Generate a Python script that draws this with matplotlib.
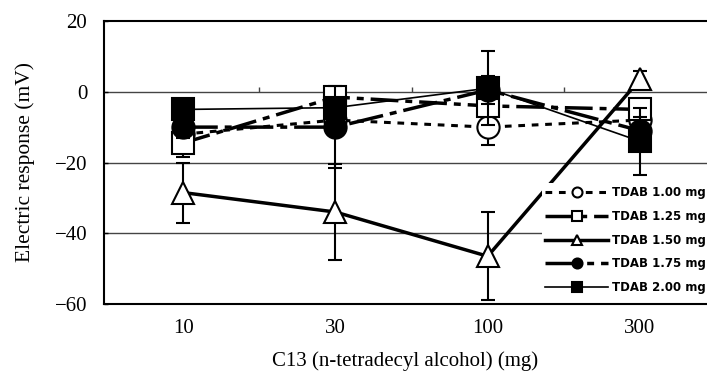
import numpy as np
import matplotlib
matplotlib.use("Agg")
import matplotlib.pyplot as plt

# ---------- datos ----------
c13_labels = ["10", "30", "100", "300"]
series_labels = ["TDAB 1.00 mg", "TDAB 1.25 mg", "TDAB 1.50 mg",
                 "TDAB 1.75 mg", "TDAB 2.00 mg"]

tdab_100 = [-12.0, -8.0, -10.0, -8.0]
tdab_125 = [-14.5, -1.5, -4.0, -5.0]
tdab_150 = [-28.5, -34.0, -46.5, 3.5]
tdab_175 = [-10.0, -10.0, 0.5, -11.0]
tdab_200 = [-5.0, -4.5, 1.0, -14.0]

err_100 = [3.0, 3.0, 5.0, 4.0]
err_125 = [4.0, 2.0, 3.0, 3.0]
err_150 = [8.5, 13.5, 12.5, 2.5]
err_175 = [3.0, 11.5, 4.0, 4.0]
err_200 = [2.0, 2.0, 10.5, 9.5]
# ---------------------------

plt.rcParams["font.family"] = ["Liberation Serif", "DejaVu Serif"]

fig = plt.figure(figsize=(7.07, 3.74), dpi=100)
ax = fig.add_axes([104 / 707, 1 - 304 / 374, 1 - 104 / 707, (304 - 21) / 374])

x = np.arange(len(c13_labels))

estilos = [
    # (valores, errores, marcador, cara, dashes, lw)
    (tdab_100, err_100, "o", "white", (2.2, 2.2), 2.2),
    (tdab_125, err_125, "s", "white", (8, 2, 2, 2), 2.5),
    (tdab_150, err_150, "^", "white", None, 2.5),
    (tdab_175, err_175, "o", "black", (10, 2, 2, 2), 2.5),
    (tdab_200, err_200, "s", "black", None, 1.2),
]

for i, (vals, errs, mk, fc, dsh, lw) in enumerate(estilos):
    ax.errorbar(x, vals, yerr=errs, fmt="none", ecolor="black",
                elinewidth=1.5, capsize=5, capthick=1.5, zorder=3 + i)
    kw = dict(color="black", lw=lw, marker=mk, markersize=16,
              markerfacecolor=fc, markeredgecolor="black",
              markeredgewidth=1.5, label=series_labels[i], zorder=3 + i)
    if dsh is not None:
        kw["dashes"] = dsh
    ax.plot(x, vals, **kw)

for yy in [0, -20, -40]:
    ax.axhline(yy, color="#444444", lw=1.0, zorder=1)
ax.vlines([0.5, 1.5, 2.5], 0, 1.3, color="#444444", lw=1.0, zorder=1)

ax.set_xlim(-0.519, 3.44)
ax.set_ylim(-60, 20)
ax.set_xticks(x)
ax.set_xticklabels(c13_labels)
ax.set_yticks([20, 0, -20, -40, -60])
ax.set_yticklabels(["20", "0", "\u221220", "\u221240", "\u221260"])
ax.tick_params(axis="x", length=0, pad=11, labelsize=15)
ax.tick_params(axis="y", direction="in", length=3, width=1, pad=12,
               labelsize=15)

for s in ["top", "bottom", "left"]:
    ax.spines[s].set_linewidth(1.5)
ax.spines["right"].set_visible(False)

ax.set_xlabel("C13 (n-tetradecyl alcohol) (mg)", fontsize=15, labelpad=9)
ax.set_ylabel("Electric response (mV)", fontsize=15.5, labelpad=14)

leg = ax.legend(loc="upper left", bbox_to_anchor=(536 / 707, 1 - 177 / 374),
                bbox_transform=fig.transFigure, frameon=True, fancybox=False,
                facecolor="white", edgecolor="none", framealpha=1,
                markerscale=0.45, handlelength=5.3, handletextpad=0.3,
                labelspacing=0.9, borderpad=0.3,
                prop={"family": "DejaVu Sans", "weight": "bold", "size": 8.5})
leg.set_zorder(20)

fig.savefig("out.png", dpi=100)
